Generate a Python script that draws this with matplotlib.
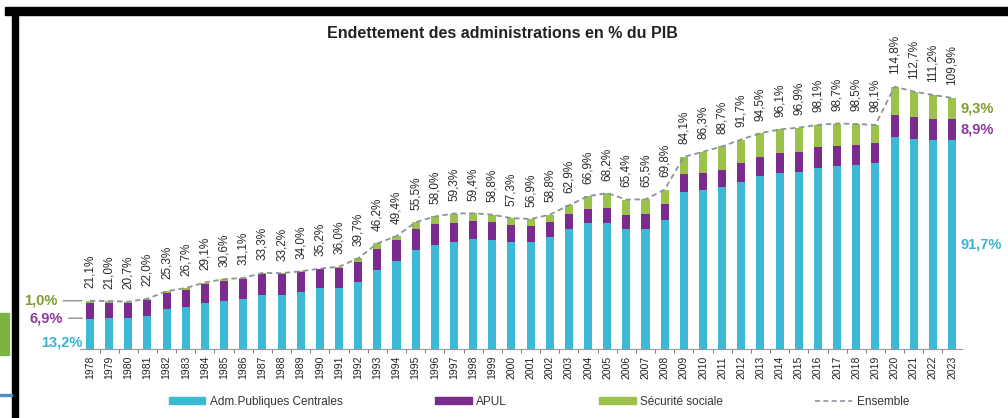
import matplotlib.pyplot as plt
from matplotlib.patches import Rectangle, Patch
from matplotlib.lines import Line2D

plt.rcParams['font.family'] = ['Liberation Sans', 'DejaVu Sans']

years = list(range(1978, 2024))
# Adm. Publiques Centrales
apuc = [13.2, 13.7, 13.7, 14.4, 17.6, 18.4, 20.1, 20.9, 22.0, 23.5,
        23.7, 25.0, 26.5, 26.8, 29.4, 34.5, 38.7, 43.5, 45.5, 46.7,
        48.0, 47.8, 46.7, 46.7, 48.9, 52.4, 55.0, 55.0, 52.7, 52.6,
        56.6, 68.8, 69.5, 70.8, 73.2, 75.7, 76.9, 77.6, 79.1, 80.0,
        80.6, 81.6, 93.0, 92.0, 91.5, 91.7]
# APUL
apul = [6.9, 6.6, 6.3, 7.0, 7.0, 7.6, 8.3, 8.8, 8.5, 9.5,
        9.2, 8.6, 8.3, 8.6, 8.8, 9.1, 8.8, 9.1, 9.1, 8.5,
        7.9, 7.6, 7.4, 7.3, 6.7, 6.6, 6.1, 6.6, 6.1, 6.3,
        6.9, 7.7, 7.6, 7.7, 8.3, 8.3, 8.8, 8.8, 9.1, 8.8,
        8.8, 8.5, 9.5, 9.5, 9.2, 8.9]
# Sécurité sociale
secu = [1.0, 0.7, 0.7, 0.6, 0.7, 0.7, 0.7, 0.9, 0.6, 0.3,
        0.3, 0.4, 0.4, 0.6, 1.5, 2.6, 1.9, 2.9, 3.4, 4.1,
        3.5, 3.4, 3.2, 2.9, 3.2, 3.9, 5.8, 6.6, 6.6, 6.6,
        6.3, 7.6, 9.2, 10.2, 10.2, 10.5, 10.4, 10.5, 9.9, 9.9,
        9.1, 8.0, 12.3, 11.2, 10.5, 9.3]
# Ensemble
total = [21.1, 21.0, 20.7, 22.0, 25.3, 26.7, 29.1, 30.6, 31.1, 33.3,
         33.2, 34.0, 35.2, 36.0, 39.7, 46.2, 49.4, 55.5, 58.0, 59.3,
         59.4, 58.8, 57.3, 56.9, 58.8, 62.9, 66.9, 68.2, 65.4, 65.5,
         69.8, 84.1, 86.3, 88.7, 91.7, 94.5, 96.1, 96.9, 98.1, 98.7,
         98.5, 98.1, 114.8, 112.7, 111.2, 109.9]

c_apuc = '#3cb9d5'
c_apul = '#7b2b8d'
c_secu = '#9cc24c'
c_line = '#8a939e'

fig = plt.figure(figsize=(10.08, 4.18), dpi=100)

# screenshot frame bits
fig.patches.append(Rectangle((5 / 1008, 1 - 15 / 418), 1, 8 / 418, color='black',
                             transform=fig.transFigure, figure=fig))
fig.patches.append(Rectangle((12 / 1008, 0), 6 / 1008, 1 - 8 / 418, color='black',
                             transform=fig.transFigure, figure=fig))
fig.patches.append(Rectangle((0, 1 - 355 / 418), 9 / 1008, 42 / 418, color='#7cb342',
                             transform=fig.transFigure, figure=fig))
fig.patches.append(Rectangle((0, 1 - 396 / 418), 12 / 1008, 2 / 418, color='#4a90c8',
                             transform=fig.transFigure, figure=fig))

ax = fig.add_axes([80 / 1008, 1 - 349 / 418, 882 / 1008, 297 / 418])

x = list(range(len(years)))
bottom2 = [a + b for a, b in zip(apuc, apul)]
w = 0.42
ax.bar(x, apuc, w, color=c_apuc, label='Adm.Publiques Centrales')
ax.bar(x, apul, w, bottom=apuc, color=c_apul, label='APUL')
ax.bar(x, secu, w, bottom=bottom2, color=c_secu, label='Sécurité sociale')
ax.plot(x, total, ls=(0, (3, 2)), color=c_line, lw=1.3, label='Ensemble')

for i, t in enumerate(total):
    ax.annotate(f"{t:.1f}".replace('.', ',') + '%', (i, t), xytext=(0, 9),
                textcoords='offset points', rotation=90, ha='center', va='bottom',
                fontsize=8.5, color='#2a2a2a')

# left annotations (1978)
ax.annotate('1,0%', (-0.25, 21.1), xytext=(-20, 0), textcoords='offset points',
            ha='right', va='center', fontsize=10.5, fontweight='bold', color='#7f9c2c',
            arrowprops=dict(arrowstyle='-', color='#777777', lw=0.8))
ax.annotate('6,9%', (-0.25, 13.5), xytext=(-16, 0), textcoords='offset points',
            ha='right', va='center', fontsize=10.5, fontweight='bold', color='#8e3a9d',
            arrowprops=dict(arrowstyle='-', color='#777777', lw=0.8))
ax.annotate('13,2%', (-0.25, 3), xytext=(-2, 0), textcoords='offset points',
            ha='right', va='center', fontsize=10.5, fontweight='bold', color='#3bb3d3')

# right annotations (2023)
n = len(years) - 1
ax.annotate('9,3%', (n, bottom2[n] + secu[n] / 2), xytext=(6, 0), textcoords='offset points',
            ha='left', va='center', fontsize=10.5, fontweight='bold', color='#7f9c2c',
            annotation_clip=False)
ax.annotate('8,9%', (n, apuc[n] + apul[n] / 2), xytext=(6, 0), textcoords='offset points',
            ha='left', va='center', fontsize=10.5, fontweight='bold', color='#8e3a9d',
            annotation_clip=False)
ax.annotate('91,7%', (n, apuc[n] / 2), xytext=(6, 0), textcoords='offset points',
            ha='left', va='center', fontsize=10.5, fontweight='bold', color='#3bb3d3',
            annotation_clip=False)

ax.set_xlim(-0.52, len(years) - 0.48)
ax.set_ylim(0, 130)
ax.set_xticks(x)
ax.set_xticklabels([str(y) for y in years], rotation=90, fontsize=7.5, color='#222222')
ax.set_xticks([i + 0.5 for i in x[:-1]], minor=True)
ax.tick_params(axis='x', which='major', length=0, pad=5)
ax.tick_params(axis='x', which='minor', length=3, color='#666666')
ax.set_yticks([])
for s in ['top', 'right', 'left']:
    ax.spines[s].set_visible(False)
ax.spines['bottom'].set_color('#999999')

fig.text(502 / 1008, 1 - 33 / 418, 'Endettement des administrations en % du PIB',
         ha='center', va='center', fontsize=11.5, fontweight='bold', color='#222222')

handles = [Patch(color=c_apuc), Patch(color=c_apul), Patch(color=c_secu),
           Line2D([0], [0], ls=(0, (3, 2)), color=c_line, lw=1.2)]
labels = ['Adm.Publiques Centrales', 'APUL', 'Sécurité sociale', 'Ensemble']
fig.legend(handles, labels, ncol=4, frameon=False, loc='center',
           bbox_to_anchor=(539 / 1008, 1 - 402 / 418), fontsize=8.5,
           handlelength=3.1, handleheight=0.55, columnspacing=7.8, handletextpad=0.4,
           labelcolor='#333333')

fig.savefig('out.png', dpi=100)
